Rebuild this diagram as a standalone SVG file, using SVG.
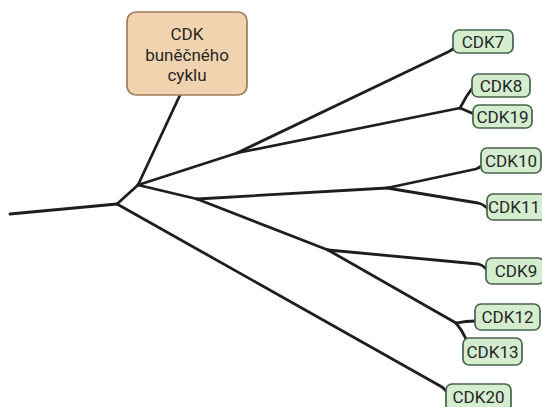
<svg xmlns="http://www.w3.org/2000/svg" width="542" height="407" viewBox="0 0 542 407">
<style>
.e{fill:none;stroke:#1e1e1e;stroke-width:2.8;stroke-linecap:round;stroke-linejoin:round}
.g{fill:#d4edcf;stroke:#46644a;stroke-width:1.7}
.lbl{font-family:Roboto,"Liberation Sans",sans-serif;font-size:17px;fill:#262626;text-anchor:middle}
.tan{fill:#f2d3b0;stroke:#a17b5b;stroke-width:1.7}
</style>
<rect width="542" height="407" fill="#fff"/>
<g id="connectors">
<path class="e" d="M10,214 L117,204"/>
<path class="e" d="M117,204 L138,185"/>
<path class="e" d="M138,185 L180,95"/>
<path class="e" d="M138,185 L237,153"/>
<path class="e" d="M237,153 L448,52 Q452,50 455,47"/>
<path class="e" d="M237,153 L460,108"/>
<path class="e" d="M460,108 Q466,96 473,87"/>
<path class="e" d="M460,108 L474,114"/>
<path class="e" d="M138,185 L197,199"/>
<path class="e" d="M197,199 L387,188"/>
<path class="e" d="M387,188 L476,169 Q479,168 481,166"/>
<path class="e" d="M387,188 L478,203 Q483,204 487,208"/>
<path class="e" d="M197,199 L328,250"/>
<path class="e" d="M328,250 L478,264 Q483,265 486,269"/>
<path class="e" d="M328,250 L456,323"/>
<path class="e" d="M456,323 Q466,321 476,321"/>
<path class="e" d="M456,323 Q462,330 466,339"/>
<path class="e" d="M117,204 L442,387 Q445,389 447,393"/>
</g>
<g id="cdk-cycle">
<rect class="tan" x="127" y="12" width="120" height="83" rx="9"/>
<text class="lbl" x="187" y="40">CDK</text>
<text class="lbl" x="187" y="61">buněčného</text>
<text class="lbl" x="187" y="81">cyklu</text>
</g>
<g id="cdk7"><rect class="g" x="453" y="30" width="60" height="23" rx="6"/><text class="lbl" x="483" y="48">CDK7</text></g>
<g id="cdk8"><rect class="g" x="472" y="74" width="58" height="23" rx="6"/><text class="lbl" x="501" y="92">CDK8</text></g>
<g id="cdk19"><rect class="g" x="473" y="105" width="59" height="23" rx="6"/><text class="lbl" x="502.5" y="123">CDK19</text></g>
<g id="cdk10"><rect class="g" x="481" y="148" width="60" height="25" rx="6"/><text class="lbl" x="511" y="167">CDK10</text></g>
<g id="cdk11"><rect class="g" x="487" y="194" width="64" height="26" rx="6"/><text class="lbl" x="514" y="213">CDK11</text></g>
<g id="cdk9"><rect class="g" x="486" y="258" width="58" height="26" rx="6"/><text class="lbl" x="516" y="277">CDK9</text></g>
<g id="cdk12"><rect class="g" x="475" y="304" width="65" height="26" rx="6"/><text class="lbl" x="507.5" y="323">CDK12</text></g>
<g id="cdk13"><rect class="g" x="463" y="338" width="59" height="27" rx="6"/><text class="lbl" x="492.5" y="358">CDK13</text></g>
<g id="cdk20"><rect class="g" x="446" y="384" width="65" height="27" rx="6"/><text class="lbl" x="478.5" y="403">CDK20</text></g>
</svg>
